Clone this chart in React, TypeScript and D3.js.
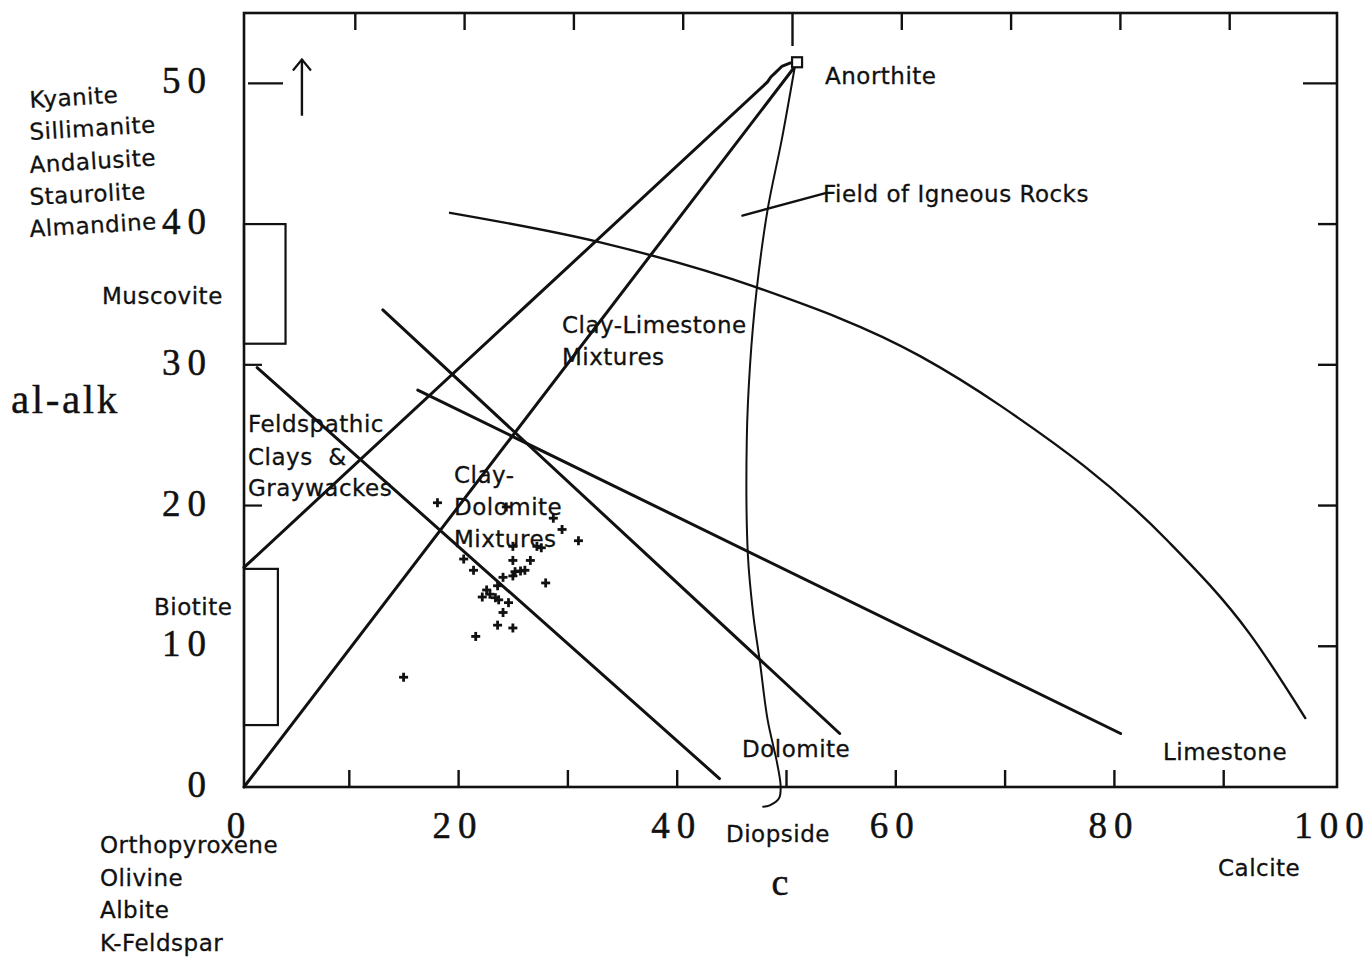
import React from "react";
import * as d3 from "d3";

// ACF-style projection: c (abscissa) versus al-alk (ordinate)
const C_TICKS = [10, 20, 30, 40, 50, 60, 70, 80, 90];
const C_LABELS = [0, 20, 40, 60, 80, 100];
const AL_LABELS = [0, 10, 20, 30, 40, 50];
const AL_TICKS_LEFT = [20, 30];
const AL_TICKS_RIGHT = [10, 20, 30, 40];
const LONG_TICK = 50;

// Tie lines and field boundaries, [c, al-alk]
const feldspathicLine: [number, number][] = [[1.2, 29.8], [43.5, 0.6]];
const clayDolomiteLine: [number, number][] = [[12.7, 33.9], [54.5, 3.8]];
const clayLimestoneLine: [number, number][] = [[15.9, 28.2], [80.2, 3.8]];
const originToAnorthite: [number, number][] = [[0, 0], [50.4, 51.2]];
const biotiteToAnorthite: [number, number][] = [
  [0, 15.6], [47.9, 50.1], [48.2, 50.45], [48.6, 50.75], [49.2, 51.2], [50.0, 51.45],
];
const igneousArc: [number, number][] = [
  [18.85, 40.8], [32.6, 38.7], [46.9, 35.5], [61.9, 30.6], [69.2, 27.1],
  [84.5, 17.5], [92.0, 10.9], [97.1, 4.9],
];
const igneousFieldEdge: [number, number][] = [
  [50.4, 51.2], [49.2, 46.0], [47.9, 41.0], [46.9, 35.3], [46.3, 30.0],
  [46.0, 24.7], [46.1, 16.5], [46.6, 12.2], [47.2, 8.9], [47.9, 4.8],
  [48.8, 1.6], [49.1, 0], [48.95, -0.8], [48.1, -1.3], [47.5, -1.4],
];
const igneousPointer: [number, number][] = [[45.6, 40.6], [53.2, 42.2]];
const anorthite: [number, number] = [50.6, 51.5];
const upArrow: [number, number][] = [[5.3, 47.7], [5.3, 51.7]];

const muscoviteBox = { c0: 0, c1: 3.8, a0: 31.5, a1: 40 };
const biotiteBox = { c0: 0, c1: 3.1, a0: 4.4, a1: 15.5 };

// Sample analyses
const sampleC = [
  17.7, 24.0, 28.3, 29.1, 30.6, 24.6, 26.8, 27.2, 20.1, 24.6,
  26.2, 21.0, 24.8, 25.3, 25.7, 24.6, 23.7, 27.6, 23.2, 22.2,
  22.5, 21.8, 23.0, 23.3, 24.2, 23.7, 23.2, 24.6, 21.2, 14.6,
];
const sampleAlAlk = [
  20.2, 19.9, 19.1, 18.3, 17.5, 17.1, 17.1, 17.0, 16.2, 16.1,
  16.1, 15.4, 15.3, 15.35, 15.4, 15.0, 14.9, 14.5, 14.3, 14.0,
  13.7, 13.5, 13.45, 13.3, 13.1, 12.4, 11.5, 11.3, 10.7, 7.8,
];

const SANS = "'DejaVu Sans', Verdana, sans-serif";
const SERIF = "'Liberation Serif', 'Times New Roman', serif";
const INK = "#111";

type Label = { text: string; x: number; y: number; rotate?: number };
const labels: Label[] = [
  { text: "Kyanite", x: 30, y: 108, rotate: -3.5 },
  { text: "Sillimanite", x: 30, y: 140, rotate: -3.5 },
  { text: "Andalusite", x: 30, y: 173, rotate: -3.5 },
  { text: "Staurolite", x: 30, y: 205, rotate: -3 },
  { text: "Almandine", x: 30, y: 237, rotate: -3.5 },
  { text: "Muscovite", x: 102, y: 304 },
  { text: "Biotite", x: 154, y: 615 },
  { text: "Orthopyroxene", x: 100, y: 853 },
  { text: "Olivine", x: 100, y: 886 },
  { text: "Albite", x: 100, y: 918 },
  { text: "K-Feldspar", x: 100, y: 951 },
  { text: "Anorthite", x: 825, y: 84 },
  { text: "Field of Igneous Rocks", x: 823, y: 202 },
  { text: "Clay-Limestone", x: 562, y: 333 },
  { text: "Mixtures", x: 562, y: 365 },
  { text: "Feldspathic", x: 248, y: 432 },
  { text: "Clays  &", x: 248, y: 465 },
  { text: "Graywackes", x: 248, y: 496 },
  { text: "Clay-", x: 454, y: 483 },
  { text: "Dolomite", x: 454, y: 515 },
  { text: "Mixtures", x: 454, y: 547 },
  { text: "Dolomite", x: 742, y: 757 },
  { text: "Limestone", x: 1163, y: 760 },
  { text: "Diopside", x: 726, y: 842 },
  { text: "Calcite", x: 1218, y: 876 },
];

// Widely spaced numerals: gap only between glyphs, none after the last one
function Spaced({ s, gap }: { s: string; gap: number }) {
  return (
    <>
      {s.split("").map((ch, i) => (
        <tspan key={i} dx={i === 0 ? 0 : gap}>
          {ch}
        </tspan>
      ))}
    </>
  );
}

export default function App() {
  const W = 1368;
  const H = 957;
  const x = d3.scaleLinear().domain([0, 100]).range([244, 1337]);
  const y = d3.scaleLinear().domain([0, 55]).range([787, 13]);

  const straight = d3
    .line<[number, number]>()
    .x((d) => x(d[0]))
    .y((d) => y(d[1]));
  const arcLine = d3
    .line<[number, number]>()
    .x((d) => x(d[0]))
    .y((d) => y(d[1]))
    .curve(d3.curveMonotoneX);
  const edgeLine = d3
    .line<[number, number]>()
    .x((d) => x(d[0]))
    .y((d) => y(d[1]))
    .curve(d3.curveCatmullRom.alpha(0.5));

  const box = (b: { c0: number; c1: number; a0: number; a1: number }) => ({
    x: x(b.c0),
    y: y(b.a1),
    width: x(b.c1) - x(b.c0),
    height: y(b.a0) - y(b.a1),
  });

  const arrowTip = [x(upArrow[1][0]), y(upArrow[1][1])];
  const anX = x(anorthite[0]);
  const anY = y(anorthite[1]);

  return (
    <svg
      width={W}
      height={H}
      viewBox={`0 0 ${W} ${H}`}
      style={{ position: "absolute", left: 0, top: 0, background: "#fff" }}
    >
      <rect width={W} height={H} fill="#fff" />

      {/* frame */}
      <rect
        x={x(0)}
        y={y(55)}
        width={x(100) - x(0)}
        height={y(0) - y(55)}
        fill="none"
        stroke={INK}
        strokeWidth={2.6}
      />

      {/* ticks on the c axis, bottom and top */}
      {C_TICKS.map((t) => (
        <g key={"ct" + t} stroke={INK} strokeWidth={2.4}>
          <line x1={x(t) - 4} x2={x(t) - 4} y1={y(0)} y2={y(0) - 17} />
          <line
            x1={x(t) + 2}
            x2={x(t) + 2}
            y1={y(55)}
            y2={y(55) + (t === LONG_TICK ? 33 : 17)}
          />
        </g>
      ))}

      {/* ticks on the al-alk axis */}
      <line x1={x(0) + 4} x2={x(0) + 39} y1={y(LONG_TICK)} y2={y(LONG_TICK)} stroke={INK} strokeWidth={2.4} />
      {AL_TICKS_LEFT.map((t) => (
        <line key={"lt" + t} x1={x(0)} x2={x(0) + 18} y1={y(t)} y2={y(t)} stroke={INK} strokeWidth={2.2} />
      ))}
      <line x1={x(100) - 34} x2={x(100)} y1={y(LONG_TICK)} y2={y(LONG_TICK)} stroke={INK} strokeWidth={2.4} />
      {AL_TICKS_RIGHT.map((t) => (
        <line key={"rt" + t} x1={x(100) - 19} x2={x(100)} y1={y(t)} y2={y(t)} stroke={INK} strokeWidth={2.4} />
      ))}

      {/* tick labels */}
      <g fontFamily={SERIF} fontSize={37} fill={INK} stroke={INK} strokeWidth={0.5}>
        {C_LABELS.map((t) => (
          <text key={"cl" + t} x={x(t) - 8} y={838} textAnchor="middle">
            <Spaced s={String(t)} gap={7} />
          </text>
        ))}
        {AL_LABELS.map((t) => (
          <text key={"al" + t} x={206} y={y(t) + 10} textAnchor="end">
            <Spaced s={String(t)} gap={7} />
          </text>
        ))}
      </g>

      {/* axis titles */}
      <text x={11} y={413} fontFamily={SERIF} fontSize={41} letterSpacing={2.6} fill={INK} stroke={INK} strokeWidth={0.4}>
        al-alk
      </text>
      <text x={780} y={895} textAnchor="middle" fontFamily={SERIF} fontSize={38} fill={INK} stroke={INK} strokeWidth={0.5}>
        c
      </text>

      {/* mineral composition boxes */}
      <rect {...box(muscoviteBox)} fill="none" stroke={INK} strokeWidth={2.2} />
      <rect {...box(biotiteBox)} fill="none" stroke={INK} strokeWidth={2.2} />

      {/* direction arrow */}
      <line
        x1={x(upArrow[0][0])}
        y1={y(upArrow[0][1])}
        x2={arrowTip[0]}
        y2={arrowTip[1]}
        stroke={INK}
        strokeWidth={2.4}
      />
      <path
        d={`M${arrowTip[0] - 9},${arrowTip[1] + 11} L${arrowTip[0]},${arrowTip[1]} L${arrowTip[0] + 9},${arrowTip[1] + 11}`}
        fill="none"
        stroke={INK}
        strokeWidth={2.2}
      />

      {/* tie lines */}
      <g fill="none" stroke={INK} strokeLinecap="round" strokeLinejoin="round">
        <path d={straight(originToAnorthite) ?? ""} strokeWidth={3} />
        <path d={straight(biotiteToAnorthite) ?? ""} strokeWidth={3} />
        <path d={straight(feldspathicLine) ?? ""} strokeWidth={3} />
        <path d={straight(clayDolomiteLine) ?? ""} strokeWidth={3} />
        <path d={straight(clayLimestoneLine) ?? ""} strokeWidth={3} />
        <path d={arcLine(igneousArc) ?? ""} strokeWidth={2.4} />
        <path d={edgeLine(igneousFieldEdge) ?? ""} strokeWidth={2} />
        <path d={straight(igneousPointer) ?? ""} strokeWidth={2.4} />
      </g>

      {/* anorthite composition */}
      <rect x={anX - 5} y={anY - 5} width={10} height={10} fill="#fff" stroke={INK} strokeWidth={2.2} />

      {/* samples */}
      <g stroke={INK} strokeWidth={2.8}>
        {sampleC.map((c, i) => {
          const px = x(c);
          const py = y(sampleAlAlk[i]);
          return (
            <g key={"s" + i}>
              <line x1={px - 4.5} x2={px + 4.5} y1={py} y2={py} />
              <line x1={px} x2={px} y1={py - 4.5} y2={py + 4.5} />
            </g>
          );
        })}
      </g>

      {/* annotations */}
      {labels.map((l, i) => (
        <text
          key={"lab" + i}
          x={l.x}
          y={l.y}
          transform={l.rotate ? `rotate(${l.rotate} ${l.x} ${l.y})` : undefined}
          fontFamily={SANS}
          fontSize={23}
          letterSpacing={0.5}
          fill={INK}
          stroke={INK}
          strokeWidth={0.3}
          style={{ whiteSpace: "pre" }}
        >
          {l.text}
        </text>
      ))}
    </svg>
  );
}
